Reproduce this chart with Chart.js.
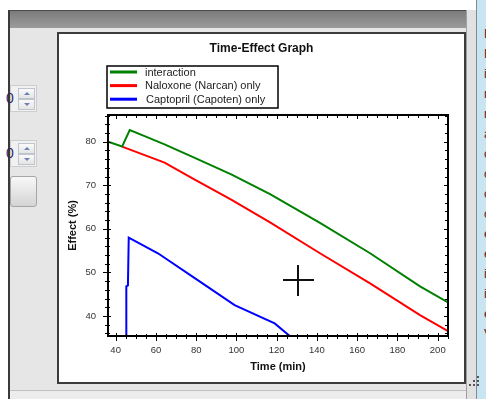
<!DOCTYPE html>
<html>
<head>
<meta charset="utf-8">
<script src="https://cdn.jsdelivr.net/npm/chart.js@4/dist/chart.umd.min.js"></script>
<style>
  html, body { margin: 0; padding: 0; }
  body { width: 486px; height: 399px; position: relative; overflow: hidden; background: #fff;
         font-family: "Liberation Sans", Arial, sans-serif; }
  .abs { position: absolute; box-sizing: border-box; }
  .win { left: 8px; top: 10px; width: 458px; height: 389px; background: #e6e6e6; border-left: 2px solid #3a3a3a; }
  .titlebar { left: 8px; top: 10px; width: 458px; height: 18px; background: linear-gradient(#7c7c7c, #9b9b9b);
              border-top: 1px solid #4a4a4a; border-left: 2px solid #3a3a3a; }
  .side { left: 466px; top: 10px; width: 10px; height: 389px; background: #e1e1e1; border-left: 1px solid #a0a0a0; }
  .blue { left: 476px; top: 0; width: 10px; height: 399px; background: #c8e5f1; border-left: 1px solid #7d8c96; overflow: hidden; }
  .blue div { position: absolute; left: 7px; top: 24px; font-size: 13px; line-height: 20px; color: #6b1616; }
  .bottom { left: 10px; top: 390px; width: 456px; height: 9px; background: #ededed; border-top: 1px solid #c2c2c2; }
  .spin { left: 10px; width: 27px; height: 27px; background: #f1f1f1; border: 1px solid #cdcdcd; }
  .spin .zero { position: absolute; left: -5px; top: 4px; font-size: 14px; color: #2a2a6a; }
  .spin .b { position: absolute; left: 7px; width: 17px; height: 11px; background: linear-gradient(#fafafa, #e4e4e4); border: 1px solid #bfc5cc; box-sizing: border-box; }
  .spin .b i { position: absolute; left: 5px; top: 3px; width: 0; height: 0; border-left: 3px solid transparent; border-right: 3px solid transparent; }
  .spin .up i { border-bottom: 3px solid #6b82b8; }
  .spin .dn i { border-top: 3px solid #6b82b8; }
  .btn { left: 10px; top: 176px; width: 27px; height: 31px; border: 1px solid #a6a6a6; border-radius: 3px;
         background: linear-gradient(#f8f8f8, #d4d4d4); }
  .panel { left: 57px; top: 32px; width: 409px; height: 352px; border: 2px solid #3c3c3c; background: #fff; }
  .panel canvas { position: absolute; left: 0; top: 0; }
  .cur { background: #111; }
  .dot { width: 2px; height: 2px; background: #555; }
</style>
</head>
<body>
<div class="abs win"></div>
<div class="abs titlebar"></div>
<div class="abs side"></div>
<div class="abs blue"><div>H<br>H<br>i<br>n<br>n<br>a<br>c<br>c<br>c<br>c<br>e<br>e<br>i<br>i<br>e<br>V</div></div>
<div class="abs bottom"></div>

<div class="abs spin" style="top:85px"><span class="zero">0</span><div class="b up" style="top:2px"><i></i></div><div class="b dn" style="top:13px"><i></i></div></div>
<div class="abs spin" style="top:140px"><span class="zero">0</span><div class="b up" style="top:2px"><i></i></div><div class="b dn" style="top:13px"><i></i></div></div>
<div class="abs btn"></div>

<div class="abs panel"><canvas id="effectChart" width="405" height="348"></canvas></div>

<div class="abs cur" style="left:283px;top:279px;width:31px;height:2px"></div>
<div class="abs cur" style="left:297px;top:265px;width:2px;height:31px"></div>

<div class="abs dot" style="left:477px;top:376px"></div>
<div class="abs dot" style="left:473px;top:380px"></div>
<div class="abs dot" style="left:477px;top:380px"></div>
<div class="abs dot" style="left:469px;top:384px"></div>
<div class="abs dot" style="left:473px;top:384px"></div>
<div class="abs dot" style="left:477px;top:384px"></div>

<script>
// series (time in min, effect in %)
const seriesLabels = ['interaction', 'Naloxone (Narcan) only', 'Captopril (Capoten) only'];
const seriesColors = ['#008000', '#ff0000', '#0000ff'];

const interactionTime   = [36.2, 43.2, 47, 55, 64.3, 79.3, 97.4, 116.7, 141.5, 166.4, 191.2, 206];
const interactionEffect = [80.0, 78.9, 82.7, 81.2, 79.4, 76.3, 72.5, 68.0, 61.4, 54.4, 46.8, 42.9];

const naloxoneTime   = [43.2, 64.3, 79.3, 97.4, 116.7, 141.5, 166.4, 191.2, 205.5];
const naloxoneEffect = [78.9, 75.2, 71.3, 66.7, 61.5, 54.4, 47.5, 40.2, 36.4];

const captoprilTime   = [45.3, 45.3, 46.1, 46.5, 61, 79.3, 99.1, 119, 127];
const captoprilEffect = [30, 46.8, 47.0, 58.0, 54.4, 48.7, 42.5, 38.3, 35.2];

const xTickValues = [40, 60, 80, 100, 120, 140, 160, 180, 200];
const yTickValues = [40, 50, 60, 70, 80];

const toPoints = (xs, ys) => xs.map((t, i) => ({ x: t, y: ys[i] }));

// title, boxed legend, axis titles and the tick frame
const decor = {
    id: 'decor',
    afterDraw(chart) {
        const { ctx, chartArea: a, scales: { x, y } } = chart;
        ctx.save();
        ctx.strokeStyle = '#000';
        ctx.fillStyle = '#111';

        // frame
        ctx.lineWidth = 2;
        ctx.strokeRect(a.left, a.top, a.right - a.left, a.bottom - a.top);

        // tick marks on all four sides
        ctx.lineWidth = 1;
        const mark = (x1, y1, x2, y2) => { ctx.beginPath(); ctx.moveTo(x1, y1); ctx.lineTo(x2, y2); ctx.stroke(); };
        for (let v = 40; v <= 205; v += 5) {
            const px = Math.round(x.getPixelForValue(v)) + 0.5;
            const major = v % 20 === 0;
            mark(px, a.bottom - (major ? 3 : 2), px, a.bottom + (major ? 5 : 3));
            mark(px, a.top - 1, px, a.top + (major ? 4 : 3));
        }
        for (let v = 36; v <= 86; v += 2) {
            const py = Math.round(y.getPixelForValue(v)) + 0.5;
            const major = v % 10 === 0;
            mark(a.left - (major ? 5 : 3), py, a.left + (major ? 3 : 2), py);
            mark(a.right - (major ? 4 : 3), py, a.right + 1, py);
        }

        // chart title
        ctx.textAlign = 'center';
        ctx.textBaseline = 'middle';
        ctx.font = 'bold 12px "Liberation Sans", Arial, sans-serif';
        ctx.fillText('Time-Effect Graph', chart.width / 2, 15);

        // legend box
        ctx.lineWidth = 1.5;
        ctx.strokeRect(48, 32, 171, 42);
        ctx.textAlign = 'left';
        ctx.font = '11px "Liberation Sans", Arial, sans-serif';
        chart.data.datasets.forEach((ds, i) => {
            const ly = 38 + i * 13.6;
            ctx.strokeStyle = ds.borderColor;
            ctx.lineWidth = 3;
            mark(51, ly, 78, ly);
            ctx.fillStyle = '#222';
            ctx.fillText(ds.label, 86 + (i === 2 ? 1 : 0), ly + 0.5);
        });

        // axis titles
        ctx.fillStyle = '#111';
        ctx.font = 'bold 11px "Liberation Sans", Arial, sans-serif';
        ctx.textAlign = 'center';
        ctx.fillText('Time (min)', (a.left + a.right) / 2, 333);
        ctx.translate(14, (a.top + a.bottom) / 2);
        ctx.rotate(-Math.PI / 2);
        ctx.fillText('Effect (%)', 0, 0);
        ctx.restore();
    }
};

const tickFont = { family: '"Liberation Sans", Arial, sans-serif', size: 9.5 };

new Chart(document.getElementById('effectChart').getContext('2d'), {
    type: 'line',
    data: {
        datasets: [
            { label: seriesLabels[0], data: toPoints(interactionTime, interactionEffect), borderColor: seriesColors[0] },
            { label: seriesLabels[1], data: toPoints(naloxoneTime, naloxoneEffect), borderColor: seriesColors[1] },
            { label: seriesLabels[2], data: toPoints(captoprilTime, captoprilEffect), borderColor: seriesColors[2] }
        ]
    },
    options: {
        responsive: false,
        animation: false,
        events: [],
        layout: { padding: { top: 81, right: 16, left: 0, bottom: 0 } },
        elements: {
            line: { borderWidth: 2, tension: 0 },
            point: { radius: 0 }
        },
        plugins: { legend: { display: false }, title: { display: false }, tooltip: { enabled: false } },
        scales: {
            x: {
                type: 'linear', min: 36.2, max: 205.1,
                grid: { display: false, drawTicks: false },
                border: { display: false },
                afterBuildTicks: s => { s.ticks = xTickValues.map(v => ({ value: v })); },
                afterFit: s => { s.height = 46; },
                ticks: { font: tickFont, color: '#333', padding: 9, maxRotation: 0, autoSkip: false }
            },
            y: {
                type: 'linear', min: 35.4, max: 86.15,
                grid: { display: false, drawTicks: false },
                border: { display: false },
                afterBuildTicks: s => { s.ticks = yTickValues.map(v => ({ value: v })); },
                afterFit: s => { s.width = 49; },
                ticks: { font: tickFont, color: '#333', padding: 12, autoSkip: false }
            }
        }
    },
    plugins: [decor]
});
</script>
</body>
</html>
